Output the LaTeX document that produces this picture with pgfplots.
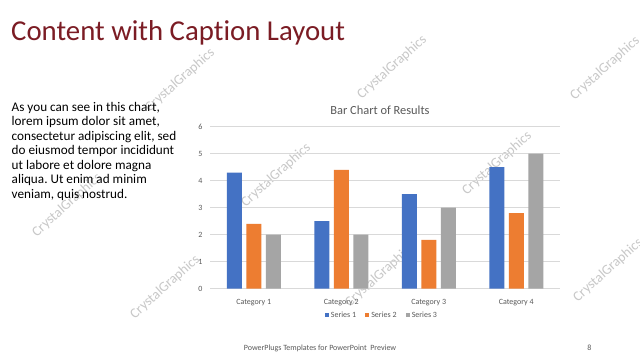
\documentclass[border=0pt]{standalone}
\usepackage{fontspec}
\setmainfont{Carlito}[Ligatures=NoCommon]
\usepackage{pgfplots}
\pgfplotsset{compat=1.18}
\frenchspacing
\definecolor{sA}{HTML}{4472C4}
\definecolor{sB}{HTML}{ED7D31}
\definecolor{sC}{HTML}{A5A5A5}
\definecolor{gridc}{HTML}{D9D9D9}
\definecolor{labc}{HTML}{595959}
\definecolor{titlered}{HTML}{7B1C24}
\definecolor{wm}{HTML}{C8C8C8}
\begin{document}
\begin{tikzpicture}[x=1pt,y=1pt]
\useasboundingbox (0,0) rectangle (640,360);
\clip (0,0) rectangle (640,360);
\fill[white] (0,0) rectangle (640,360);
% watermark
\foreach \px/\py in {180/80,392/67,605/68,276/175,497/163,380/275,67/205,165/287,608/270}{
  \node[rotate=42,text=wm,font=\fontsize{14}{16}\selectfont] at (\px,360-\py) {CrystalGraphics};
}
% slide title
\node[anchor=base west,inner sep=0,text=titlered,font=\fontsize{28.8}{32}\selectfont] at (11,320) {Content with Caption Layout};
% body text
\begin{scope}[every node/.style={anchor=base west,inner sep=0,font=\fontsize{13.2}{15}\selectfont}]
\node at (11.5,360-111.4) {As you can see in this chart,};
\node at (11.5,360-125.85) {lorem ipsum dolor sit amet,};
\node at (11.5,360-140.3) {consectetur adipiscing elit, sed};
\node at (11.5,360-154.75) {do eiusmod tempor incididunt};
\node at (11.5,360-169.2) {ut labore et dolore magna};
\node at (11.5,360-183.65) {aliqua. Ut enim ad minim};
\node at (11.5,360-198.1) {veniam, quis nostrud.};
\end{scope}
% footer
\node[anchor=base,inner sep=0,text=labc,font=\fontsize{8}{9}\selectfont] at (320,10) {PowerPlugs Templates for PowerPoint\ \ Preview};
\node[anchor=center,inner sep=0,text=labc,font=\fontsize{8}{9}\selectfont] at (589.3,12.7) {8};
% chart title
\node[anchor=center,text=labc,font=\fontsize{12.4}{14}\selectfont] at (380,250) {Bar Chart of Results};
\begin{axis}[
  at={(210pt,71.5pt)}, anchor=south west,
  scale only axis, width=350pt, height=161.8pt,
  xmin=-0.5, xmax=3.5, ymin=0, ymax=6,
  enlarge x limits=false,
  ybar=4.5pt, bar width=15pt,
  xtick={0,1,2,3},
  xticklabels={Category 1,Category 2,Category 3,Category 4},
  ytick={0,1,2,3,4,5,6},
  /pgf/number format/assume math mode=true,
  ymajorgrids,
  major grid style={draw=gridc,line width=0.75pt},
  axis line style={draw=none},
  major tick style={draw=none},
  tick label style={font=\fontsize{8}{9}\selectfont,text=labc},
  yticklabel style={xshift=-4pt},
  xticklabel style={yshift=-3.5pt},
  legend style={at={(0.491,-0.164)},anchor=center,draw=none,fill=none,
    legend columns=3,font=\fontsize{8}{9}\selectfont,text=labc,
    /tikz/every even column/.append style={column sep=7pt}},
  legend image code/.code={\fill[#1] (0pt,-2.1pt) rectangle (4.2pt,2.1pt);},
]
\addplot[fill=sA,draw=none] coordinates {(0,4.3) (1,2.5) (2,3.5) (3,4.5)};
\addplot[fill=sB,draw=none] coordinates {(0,2.4) (1,4.4) (2,1.8) (3,2.8)};
\addplot[fill=sC,draw=none] coordinates {(0,2) (1,2) (2,3) (3,5)};
\legend{Series 1,Series 2,Series 3}
\end{axis}
\end{tikzpicture}
\end{document}
